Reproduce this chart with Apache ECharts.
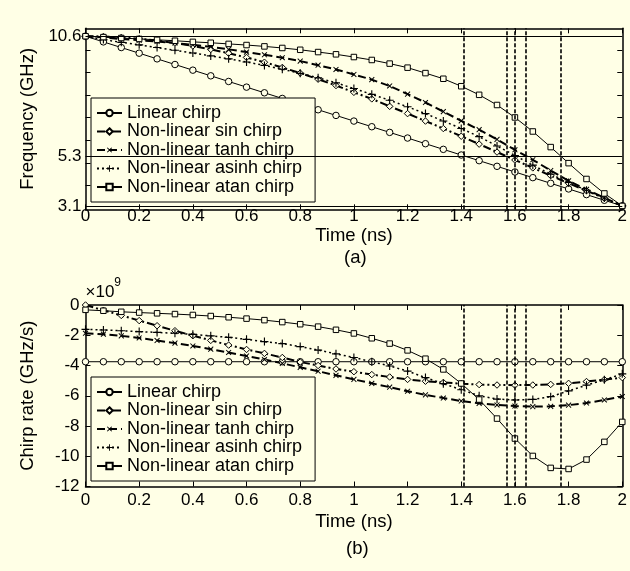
<!DOCTYPE html>
<html>
<head>
<meta charset="utf-8">
<script src="https://cdn.jsdelivr.net/npm/echarts@6/dist/echarts.min.js"></script>
<style>
html,body{margin:0;padding:0;background:#FFFFE6;}
#c{width:630px;height:571px;}
</style>
</head>
<body>
<div id="c"></div>
<script>
// ---- data ----
const times = [0,0.0667,0.1333,0.2,0.2667,0.3333,0.4,0.4667,0.5333,0.6,0.6667,0.7333,0.8,0.8667,0.9333,1,1.0667,1.1333,1.2,1.2667,1.3333,1.4,1.4667,1.5333,1.6,1.6667,1.7333,1.8,1.8667,1.9333,2];
const seriesNames = ['Linear chirp','Non-linear sin chirp','Non-linear tanh chirp','Non-linear asinh chirp','Non-linear atan chirp'];

const freqLinear = [10.6,10.35,10.1,9.85,9.6,9.35,9.1,8.85,8.6,8.35,8.1,7.85,7.6,7.35,7.1,6.85,6.6,6.35,6.1,5.85,5.6,5.35,5.1,4.85,4.6,4.35,4.1,3.85,3.6,3.35,3.1];
const freqSin = [10.6,10.59,10.55,10.49,10.41,10.3,10.17,10.02,9.85,9.66,9.45,9.22,8.97,8.7,8.42,8.12,7.83,7.5,7.18,6.85,6.52,6.18,5.83,5.48,5.13,4.78,4.44,4.1,3.77,3.44,3.1];
const freqTanh = [10.6,10.54,10.48,10.42,10.37,10.3,10.22,10.13,10.02,9.9,9.78,9.65,9.5,9.32,9.13,8.91,8.68,8.4,8.04,7.67,7.27,6.86,6.47,6.04,5.58,5.14,4.66,4.21,3.83,3.46,3.1];
const freqAsinh = [10.6,10.45,10.33,10.22,10.1,9.98,9.86,9.73,9.6,9.46,9.31,9.14,8.96,8.76,8.54,8.29,8.03,7.77,7.48,7.18,6.85,6.52,6.16,5.75,5.33,4.9,4.5,4.14,3.79,3.45,3.1];
const freqAtan = [10.6,10.56,10.52,10.48,10.44,10.4,10.35,10.31,10.26,10.21,10.15,10.08,10.0,9.9,9.8,9.68,9.55,9.39,9.21,8.97,8.72,8.39,8.01,7.56,7.01,6.39,5.7,4.99,4.29,3.65,3.1];

const rateLinear = [-3.75,-3.75,-3.75,-3.75,-3.75,-3.75,-3.75,-3.75,-3.75,-3.75,-3.75,-3.75,-3.75,-3.75,-3.75,-3.75,-3.75,-3.75,-3.75,-3.75,-3.75,-3.75,-3.75,-3.75,-3.75,-3.75,-3.75,-3.75,-3.75,-3.75,-3.75];
const rateSin = [0,-0.35,-0.69,-1.03,-1.37,-1.7,-2.03,-2.34,-2.65,-2.94,-3.2,-3.47,-3.77,-4.0,-4.23,-4.41,-4.6,-4.76,-4.92,-5.04,-5.12,-5.2,-5.26,-5.29,-5.3,-5.29,-5.25,-5.18,-5.06,-4.93,-4.8];
const rateTanh = [-1.87,-1.93,-2.04,-2.18,-2.35,-2.52,-2.71,-2.92,-3.14,-3.37,-3.6,-3.86,-4.12,-4.38,-4.65,-4.92,-5.18,-5.43,-5.7,-5.94,-6.15,-6.35,-6.5,-6.61,-6.68,-6.72,-6.7,-6.62,-6.48,-6.28,-6.05];
const rateAsinh = [-1.61,-1.65,-1.7,-1.76,-1.81,-1.87,-1.94,-2.04,-2.14,-2.27,-2.42,-2.55,-2.75,-2.98,-3.23,-3.47,-3.75,-4.03,-4.37,-4.8,-5.2,-5.6,-6.0,-6.22,-6.28,-6.24,-6.06,-5.68,-5.3,-4.95,-4.55];
const rateAtan = [-0.32,-0.38,-0.45,-0.5,-0.55,-0.6,-0.66,-0.73,-0.81,-0.9,-1.0,-1.13,-1.27,-1.43,-1.64,-1.88,-2.2,-2.55,-3.0,-3.55,-4.26,-5.19,-6.25,-7.51,-8.83,-9.98,-10.77,-10.84,-10.22,-9.05,-7.73];

const crossTimes = [1.413,1.568,1.605,1.644,1.77];
const refFreqs = [10.6,5.3,3.1];
const freqTickValues = [4,5,6,7,8,9,10];
const freqLabelValues = [3.1,5.3,10.6];

// ---- styling ----
const BG = '#FFFFE6';
const FONT = "'Liberation Sans', Arial, sans-serif";
const plusPath = 'path://M4.3,0H5.7V4.3H10V5.7H5.7V10H4.3V5.7H0V4.3H4.3Z';
const styleDefs = [
  {symbol:'circle', size:6.5, rotate:0, hollow:true, line:{type:'solid', width:1}},
  {symbol:'diamond', size:6.5, rotate:0, hollow:true, line:{type:[8,3,2,3], width:2}},
  {symbol:plusPath, size:7, rotate:45, hollow:false, line:{type:[8,4], width:2}},
  {symbol:plusPath, size:8, rotate:0, hollow:false, line:{type:[2,3], width:1.5}},
  {symbol:'rect', size:5.5, rotate:0, hollow:true, line:{type:'solid', width:1}}
];

function mkSeries(idx, values, axisIdx, extra) {
  const s = styleDefs[idx];
  const o = {
    name: seriesNames[idx],
    type: 'line',
    xAxisIndex: axisIdx[0],
    yAxisIndex: axisIdx[1],
    data: times.map((t, i) => [t, values[i]]),
    symbol: s.symbol,
    symbolSize: s.size,
    symbolRotate: s.rotate,
    showSymbol: true,
    showAllSymbol: true,
    lineStyle: {color:'#000', type:s.line.type, width:s.line.width},
    itemStyle: s.hollow ? {color:BG, borderColor:'#000', borderWidth:1} : {color:'#000', borderWidth:0},
    emphasis: {disabled:true},
    animation: false,
    z: 3
  };
  return Object.assign(o, extra || {});
}

const dashStyle = {color:'#000', type:[4,2], width:1.6};

const axisLineStyle = {show:true, onZero:false, lineStyle:{color:'#000', width:1.5}};
const tickStyle = {inside:true, length:5, lineStyle:{color:'#000', width:1}};
const labelStyle = {color:'#000', fontSize:17, fontFamily:FONT};
const nameStyle = {color:'#000', fontSize:18.5, fontFamily:FONT};

const xAxes = [
  {gridIndex:0, type:'value', min:0, max:2, interval:0.2, position:'bottom',
   axisLine:axisLineStyle, axisTick:tickStyle, splitLine:{show:false},
   axisLabel:Object.assign({margin:-1}, labelStyle),
   name:'Time (ns)', nameLocation:'middle', nameGap:15, nameTextStyle:nameStyle},
  {gridIndex:0, type:'value', min:0, max:2, interval:0.2, position:'top',
   axisLine:axisLineStyle, axisTick:tickStyle, splitLine:{show:false}, axisLabel:{show:false}},
  {gridIndex:1, type:'value', min:0, max:2, interval:0.2, position:'bottom',
   axisLine:axisLineStyle, axisTick:tickStyle, splitLine:{show:false},
   axisLabel:Object.assign({margin:5}, labelStyle),
   name:'Time (ns)', nameLocation:'middle', nameGap:26, nameTextStyle:nameStyle},
  {gridIndex:1, type:'value', min:0, max:2, interval:0.2, position:'top',
   axisLine:axisLineStyle, axisTick:tickStyle, splitLine:{show:false}, axisLabel:{show:false}}
];

const yAxes = [
  {gridIndex:0, type:'value', min:2.95, max:10.95, position:'left',
   axisLine:axisLineStyle,
   axisTick:Object.assign({customValues:freqTickValues}, tickStyle),
   axisLabel:Object.assign({customValues:freqLabelValues, margin:4}, labelStyle),
   splitLine:{show:false},
   name:'Frequency (GHz)', nameLocation:'middle', nameGap:48, nameTextStyle:nameStyle},
  {gridIndex:0, type:'value', min:2.95, max:10.95, position:'right',
   axisLine:axisLineStyle,
   axisTick:Object.assign({customValues:freqTickValues}, tickStyle),
   axisLabel:{show:false}, splitLine:{show:false}},
  {gridIndex:1, type:'value', min:-12, max:0, interval:2, position:'left',
   axisLine:axisLineStyle, axisTick:tickStyle,
   axisLabel:Object.assign({margin:6}, labelStyle),
   splitLine:{show:false},
   name:'{a|×10}{b|9}', nameLocation:'end', nameGap:4,
   nameTextStyle:{align:'left', verticalAlign:'bottom', color:'#000', fontFamily:FONT,
     rich:{a:{fontSize:17, color:'#000', fontFamily:FONT, lineHeight:24, verticalAlign:'bottom'},
           b:{fontSize:12, color:'#000', fontFamily:FONT, lineHeight:24, verticalAlign:'top'}}}},
  {gridIndex:1, type:'value', min:-12, max:0, interval:2, position:'right',
   axisLine:axisLineStyle, axisTick:tickStyle, axisLabel:{show:false}, splitLine:{show:false}},
  {gridIndex:1, type:'value', min:-12, max:0, position:'left',
   axisLine:{show:false}, axisTick:{show:false}, axisLabel:{show:false}, splitLine:{show:false},
   name:'Chirp rate (GHz/s)', nameLocation:'middle', nameGap:48, nameTextStyle:nameStyle}
];

const legendBase = {
  orient:'vertical', padding:[6,13,6,5], itemGap:0.5, itemWidth:25, itemHeight:8,
  backgroundColor:BG, borderColor:'#000', borderWidth:1, borderRadius:0,
  textStyle:{fontSize:18, color:'#000', fontFamily:FONT, lineHeight:18},
  selectedMode:false, data:seriesNames
};

const series = [];
const freqSets = [freqLinear, freqSin, freqTanh, freqAsinh, freqAtan];
const rateSets = [rateLinear, rateSin, rateTanh, rateAsinh, rateAtan];
freqSets.forEach((arr, i) => {
  let extra = null;
  if (i === 0) {
    extra = {markLine: {
      silent:true, symbol:['none','none'], animation:false, label:{show:false},
      data: crossTimes.map(v => ({xAxis:v, lineStyle:dashStyle}))
        .concat(refFreqs.map(v => ({yAxis:v, lineStyle:{color:'#000', type:'solid', width:1}})))
    }};
  }
  series.push(mkSeries(i, arr, [0,0], extra));
});
rateSets.forEach((arr, i) => {
  let extra = null;
  if (i === 0) extra = {markLine: {
    silent:true, symbol:['none','none'], animation:false, label:{show:false},
    data: crossTimes.map(v => ({xAxis:v, lineStyle:dashStyle}))
  }};
  series.push(mkSeries(i, arr, [2,2], extra));
});

const chart = echarts.init(document.getElementById('c'), null, {renderer:'canvas'});
chart.setOption({
  backgroundColor: BG,
  animation: false,
  textStyle: {fontFamily: FONT},
  grid: [
    {left:85.5, right:7.5, top:28.3, height:181, containLabel:false},
    {left:85.5, right:7.5, top:305, height:181.5, containLabel:false}
  ],
  xAxis: xAxes,
  yAxis: yAxes,
  legend: [
    Object.assign({left:91, top:98}, legendBase),
    Object.assign({left:91, top:377}, legendBase)
  ],
  graphic: [
    {type:'text', left:344, top:248, style:{text:'(a)', fontSize:18.5, fontFamily:FONT, fill:'#000'}},
    {type:'text', left:346, top:539, style:{text:'(b)', fontSize:18.5, fontFamily:FONT, fill:'#000'}}
  ],
  series: series
});
</script>
</body>
</html>
